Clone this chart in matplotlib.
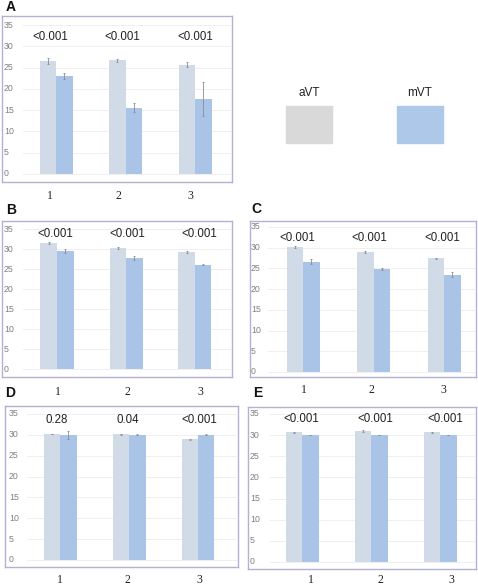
import numpy as np
import matplotlib
matplotlib.use("Agg")
import matplotlib.pyplot as plt
from matplotlib.patches import Rectangle

W, H = 478, 586

groups = ["1", "2", "3"]
yticks = [0, 5, 10, 15, 20, 25, 30, 35]

# means and error bars
a_avt = [26.6, 26.7, 25.7]
a_avt_err = [0.7, 0.3, 0.6]
a_mvt = [23.0, 15.6, 17.6]
a_mvt_err = [0.8, 1.0, 4.0]
a_p = ["<0.001", "<0.001", "<0.001"]

b_avt = [31.5, 30.2, 29.3]
b_avt_err = [0.2, 0.2, 0.3]
b_mvt = [29.5, 27.8, 26.1]
b_mvt_err = [0.5, 0.5, 0.1]
b_p = ["<0.001", "<0.001", "<0.001"]

c_avt = [30.1, 28.9, 27.4]
c_avt_err = [0.2, 0.2, 0.2]
c_mvt = [26.6, 24.9, 23.5]
c_mvt_err = [0.6, 0.3, 0.6]
c_p = ["<0.001", "<0.001", "<0.001"]

d_avt = [30.2, 30.1, 28.9]
d_avt_err = [0.1, 0.1, 0.1]
d_mvt = [30.0, 30.0, 30.0]
d_mvt_err = [0.9, 0.1, 0.1]
d_p = ["0.28", "0.04", "<0.001"]

e_avt = [30.7, 31.0, 30.7]
e_avt_err = [0.1, 0.2, 0.1]
e_mvt = [30.1, 30.1, 30.1]
e_mvt_err = [0.05, 0.05, 0.05]
e_p = ["<0.001", "<0.001", "<0.001"]

c_light = "#d0dbe7"
c_blue = "#a9c4e7"
c_edge = "#b4b2d2"
sans = "Liberation Sans"
serif = "Liberation Serif"

fig = plt.figure(figsize=(W / 100, H / 100), dpi=100)


def panel(letter, letter_xy, box, y35, y0, centers, avt, avt_err, mvt, mvt_err, pvals,
          p_y, p_dx, lab_y, lab_dx, tick_x, grid_x0):
    x0, t, x1, b = box
    ax = fig.add_axes([x0 / W, 1 - b / H, (x1 - x0) / W, (b - t) / H])
    unit = (y0 - y35) / 35
    s = (centers[2] - centers[0]) / 2
    ax.set_ylim(-(b - y0) / unit, 35 + (y35 - t) / unit)
    ax.set_xlim((x0 - centers[0]) / s, (x1 - centers[0]) / s)
    bw = 16.5 / s
    xs = np.arange(len(groups))
    gmin = (grid_x0 - x0) / (x1 - x0)
    for v in yticks:
        ax.axhline(v, gmin, 0.99, color="#efefef", lw=0.7, zorder=0)
        ax.text((tick_x - x0) / (x1 - x0), v, str(v), transform=ax.get_yaxis_transform(),
                ha="left", va="center", fontsize=6.3, color="#808080", family=sans)
    ax.bar(xs - bw / 2, avt, bw, color=c_light, zorder=2)
    ax.bar(xs + bw / 2, mvt, bw, color=c_blue, zorder=2)
    ax.errorbar(xs - bw / 2, avt, yerr=avt_err, fmt="none", ecolor="#8c8c8c", elinewidth=0.6,
                capsize=0.8, capthick=0.6, zorder=3)
    ax.errorbar(xs + bw / 2, mvt, yerr=mvt_err, fmt="none", ecolor="#8c8c8c", elinewidth=0.6,
                capsize=0.8, capthick=0.6, zorder=3)
    p_val = (y0 - p_y) / unit
    for i, p in enumerate(pvals):
        ax.text(i + p_dx[i] / s, p_val, p, ha="center", va="center", fontsize=8.3,
                color="#222222", family=sans)
    ax.set_xticks([])
    ax.set_yticks([])
    for sp in ax.spines.values():
        sp.set_color(c_edge)
        sp.set_linewidth(1.0)
    for i, g in enumerate(groups):
        fig.text((centers[i] + lab_dx[i]) / W, 1 - lab_y / H, g, ha="center", va="center",
                 fontsize=8.5, family=serif, color="#222222")
    fig.text(letter_xy[0] / W, 1 - letter_xy[1] / H, letter, ha="center", va="center",
             fontsize=10, fontweight="bold", family=sans, color="#111111")


panel("A", (11, 7), (2, 16, 232, 182), 25, 174, [56, 126, 195], a_avt, a_avt_err,
      a_mvt, a_mvt_err, a_p, 37, [-6, -3, 0], 196, [-6, -8, -5], 4, 23)
panel("B", (11, 210), (2, 221, 232, 377), 229, 369, [57, 126, 195], b_avt, b_avt_err,
      b_mvt, b_mvt_err, b_p, 234, [-2, 1, 4], 392, [1, 1, 5], 4, 23)
panel("C", (256, 209), (250, 221, 476, 377), 227, 372, [303, 374, 444], c_avt, c_avt_err,
      c_mvt, c_mvt_err, c_p, 238, [-6, -4, -2], 390, [1, -3, -1], 251, 268)
panel("D", (10, 393), (5, 406, 238, 567), 414, 560, [60, 129, 198], d_avt, d_avt_err,
      d_mvt, d_mvt_err, d_p, 420, [-3, -1, 1], 580, [0, -2, 1], 9, 27)
panel("E", (258, 393), (248, 407, 476, 569), 414, 562, [302, 371, 440], e_avt, e_avt_err,
      e_mvt, e_mvt_err, e_p, 419, [-1, 4, 5], 580, [9, 9, 11], 250, 270)

# legend
legend_names = ["aVT", "mVT"]
legend_colors = ["#d9d9d9", "#adc8e8"]
legend_boxes = [(286, 106, 332, 143), (397, 106, 443, 143)]
for name, col, (lx0, ly0, lx1, ly1) in zip(legend_names, legend_colors, legend_boxes):
    fig.patches.append(Rectangle((lx0 / W, 1 - ly1 / H), (lx1 - lx0) / W, (ly1 - ly0) / H,
                                 transform=fig.transFigure, color=col))
    fig.text((lx0 + lx1) / 2 / W, 1 - 93 / H, name, ha="center", va="center",
             fontsize=8.5, family=sans, color="#222222")

fig.savefig("out.png", dpi=100)
